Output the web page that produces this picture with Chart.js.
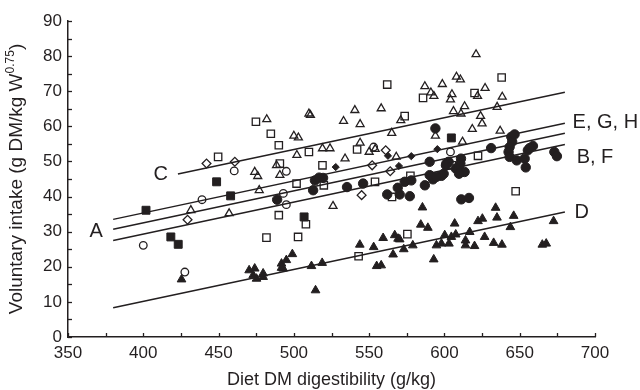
<!DOCTYPE html>
<html><head><meta charset="utf-8">
<script src="https://cdn.jsdelivr.net/npm/chart.js@4"></script>
<style>html,body{margin:0;padding:0;background:#fff;}</style>
</head><body>
<canvas id="c" width="640" height="390"></canvas>
<script>
// ---- data ----
const xTicks = [350,400,450,500,550,600,650,700];
const yTicks = [0,10,20,30,40,50,60,70,80,90];
const xTitle = 'Diet DM digestibility (g/kg)';
const yTitleMain = 'Voluntary intake (g DM/kg W';
const yTitleSup = '0.75';
const yTitleEnd = ')';

const openTriX = [474,476,477,431.6,457,482,488.5,490.7,510,511,540.5,558,533,544,587,591,593,571,565,500,503,502,519,524,544,534,550,554,568,594,621,598.6,608,610.6,627,605,604,613.4,606,611,638.4,635,624,625,618.5,637,612,622,526];
const openTriY = [47,45.8,41.8,36.1,35.2,62,48.9,46.1,63.6,63.2,64.6,65.1,61.5,60.6,71.4,69.6,68.6,61.7,58.1,57.3,56.8,51.8,53.7,53.7,55.3,50.8,52.7,53.5,51.3,57.3,80.5,72,74.1,73.3,70.9,69.1,67.6,65.7,64.3,63.6,68.4,65.5,62.9,60.8,59.2,58.7,55.6,68.6,37.3];

const openSqX = [474.8,484.7,490,449.7,490.7,510,519,542,562,573.6,585.8,638,620,622.3,605,501.8,519.9,553.9,577.4,565.2,490,508,481.8,502.8,543,575.4,647.3];
const openSqY = [61.3,57.9,54.6,51.3,49.4,52.7,48.9,53.4,71.9,62.9,68.1,73.9,69.5,51.6,48.9,43.7,43.2,44.2,45.9,39.9,34.7,32.1,28.3,28.5,23,29.3,41.5];

const openDiaX = [442,460.8,429.4,545,561,552,564];
const openDiaY = [49.4,49.9,33.4,40.4,53.2,48.9,47.2];

const openCirX = [460.4,495,439,400,427.6,553,604,495,493];
const openCirY = [47.3,47.2,39.1,26.1,18.5,54.1,52.7,37.7,40.9];

const fillDiaX = [527.8,569.8,578,595.3,562.5];
const fillDiaY = [48.4,48.7,51.5,53.5,51.6];

const fillCirX = [644.4,645,643.3,642.6,643.3,648,654,653.3,655.4,658.8,656.6,673,674.7,631,611,610.6,607.5,601.3,611.3,613.4,609.7,598,646.6,514,519.4,512.8,535.3,546,562,570.3,577,573.6,578,587,592.4,569,611.2,616.3,590.2,594,516.8,599.5,590.2,602.8,601,488.9,594.6];
const fillCirY = [57,55.6,54.1,52.7,51.3,50.3,48.3,50.8,53.2,54.4,53.8,52.7,51.5,53.8,50.8,49.4,48,49.4,47,47,46.5,45.9,57.7,44.6,45.3,41.8,42.7,43.7,40.6,40.6,40.1,44.2,44.6,43.2,44.9,42.5,39.2,39.6,49.9,59.4,45.4,46.5,46.1,49.9,48.9,39.1,45.6];

const fillSqX = [401.8,458,418.3,423.2,448.7,506.8,604.6];
const fillSqY = [36.1,40.2,28.5,26.4,44.2,34.2,56.7];

const fillTriX = [425.4,470.3,474,473,475.2,479.6,491.8,492.9,495,499,511.7,518.8,514.4,543.8,553,559.3,567,570.3,573,579,565.9,555,558,585.4,584.3,589,592.9,594.7,479.6,491.8,569.2,598,600.2,603,604.6,607.5,606.8,614,614,616.8,620,622.3,625.2,626.7,632.7,638.2,634,634.9,646,643.8,665,667.6,672.5];
const fillTriY = [16.4,19,19.5,17.6,16.6,17.1,20.9,19.5,21.9,23.6,20.2,21.1,13.3,26.3,25.6,28.2,29,27.8,25,26.1,23.5,20.2,20.4,36.9,32,31.1,22.1,26.1,18.1,19.7,28,26.6,29,26.6,28.5,29.2,32.3,27.5,26.1,29.9,25.9,33,33.7,28.5,26.8,26.3,36.8,34,34.5,31.3,26.3,26.6,33];

// regression lines (end points)
const lineX = [380, 680];
const lineCX = [423, 680];
const lineCY = [46.4, 69.7];
const lineEGHY = [33.5, 60.9];
const lineAY = [30.7, 58.0];
const lineBFY = [27.5, 54.8];
const lineDY = [8.3, 35.6];

// line labels
const labelText = ['C', 'A', 'E, G, H', 'B, F', 'D'];
const labelX = [416.4, 373.2, 685.1, 687.8, 686.4];
const labelY = [46.3, 30.0, 61.0, 51.2, 35.4];
const labelAlign = ['right', 'right', 'left', 'left', 'left'];

// ---- chart ----
const INK = '#231f20';
const FONT = '"Liberation Sans", Arial, sans-serif';
Chart.defaults.font.family = FONT;
Chart.defaults.color = INK;

const pts = (xs, ys) => xs.map((x, i) => ({x, y: ys[i]}));

function markerSet(xs, ys, style, r, filled, bw) {
  return {
    type: 'scatter', data: pts(xs, ys), pointStyle: style, pointRadius: r,
    pointBorderColor: INK, pointBackgroundColor: filled ? INK : 'rgba(0,0,0,0)',
    pointBorderWidth: bw, borderColor: INK, backgroundColor: filled ? INK : 'rgba(0,0,0,0)',
    pointHoverRadius: r
  };
}
function lineSet(xs, ys) {
  return {
    type: 'line', data: pts(xs, ys), borderColor: INK, borderWidth: 1.5,
    pointRadius: 0, fill: false, tension: 0
  };
}

const plugin = {
  id: 'decor',
  afterDraw(chart) {
    const {ctx, chartArea: a, scales: {x, y}} = chart;
    ctx.save();
    ctx.strokeStyle = INK; ctx.fillStyle = INK; ctx.lineWidth = 1.3;
    // inward tick marks (major + minor)
    for (let v = 0; v <= 90; v += 5) {
      const py = Math.round(y.getPixelForValue(v)) + 0.5;
      ctx.beginPath(); ctx.moveTo(a.left, py); ctx.lineTo(a.left + 4, py); ctx.stroke();
    }
    for (let v = 350; v <= 700; v += 25) {
      const px = Math.round(x.getPixelForValue(v)) + 0.5;
      ctx.beginPath(); ctx.moveTo(px, a.bottom); ctx.lineTo(px, a.bottom - 4); ctx.stroke();
    }
    // x title
    ctx.font = '18px ' + FONT;
    ctx.textAlign = 'center'; ctx.textBaseline = 'middle';
    ctx.fillText(xTitle, (a.left + a.right) / 2, 380);
    // y title with superscript
    const big = '19px ' + FONT, small = '12px ' + FONT;
    ctx.font = big;
    const mainW = ctx.measureText(yTitleMain).width;
    const endW = ctx.measureText(yTitleEnd).width;
    ctx.font = small;
    const supW = ctx.measureText(yTitleSup).width;
    const total = mainW + supW + endW;
    ctx.translate(17, (a.top + a.bottom) / 2);
    ctx.rotate(-Math.PI / 2);
    ctx.textAlign = 'left';
    let sx = -total / 2;
    ctx.font = big;
    ctx.fillText(yTitleMain, sx, 0); sx += mainW;
    ctx.font = small;
    ctx.fillText(yTitleSup, sx, -6); sx += supW;
    ctx.font = big;
    ctx.fillText(yTitleEnd, sx, 0);
    ctx.setTransform(1, 0, 0, 1, 0, 0);
    // line labels
    ctx.font = '20px ' + FONT;
    ctx.textBaseline = 'middle';
    for (let i = 0; i < labelText.length; i++) {
      ctx.textAlign = labelAlign[i];
      ctx.fillText(labelText[i], x.getPixelForValue(labelX[i]), y.getPixelForValue(labelY[i]));
    }
    ctx.restore();
  }
};

new Chart(document.getElementById('c'), {
  type: 'scatter',
  data: {
    datasets: [
      markerSet(openTriX, openTriY, 'triangle', 4.6, false, 1.3),
      markerSet(openSqX, openSqY, 'rect', 5.2, false, 1.3),
      markerSet(openDiaX, openDiaY, 'rectRot', 4.4, false, 1.3),
      markerSet(openCirX, openCirY, 'circle', 3.8, false, 1.3),
      markerSet(fillDiaX, fillDiaY, 'rectRot', 3.6, true, 1),
      markerSet(fillCirX, fillCirY, 'circle', 4.7, true, 1),
      markerSet(fillSqX, fillSqY, 'rect', 5.6, true, 1),
      markerSet(fillTriX, fillTriY, 'triangle', 5, true, 1),
      lineSet(lineCX, lineCY),
      lineSet(lineX, lineEGHY),
      lineSet(lineX, lineAY),
      lineSet(lineX, lineBFY),
      lineSet(lineX, lineDY)
    ]
  },
  options: {
    responsive: false, animation: false, devicePixelRatio: 1,
    layout: {padding: {left: 0, right: 45, top: 21, bottom: 0}},
    plugins: {legend: {display: false}, tooltip: {enabled: false}},
    scales: {
      x: {
        type: 'linear', min: 350, max: 700,
        afterFit(s) { s.height = 53; },
        afterBuildTicks(s) { s.ticks = xTicks.map(v => ({value: v})); },
        ticks: {font: {size: 17}, color: INK, padding: 6, maxRotation: 0, autoSkip: false},
        grid: {display: false, drawTicks: false},
        border: {display: true, color: INK, width: 1.5}
      },
      y: {
        type: 'linear', min: 0, max: 90,
        afterFit(s) { s.width = 68; },
        afterBuildTicks(s) { s.ticks = yTicks.map(v => ({value: v})); },
        ticks: {font: {size: 17}, color: INK, padding: 6, autoSkip: false},
        grid: {display: false, drawTicks: false},
        border: {display: true, color: INK, width: 1.5}
      }
    }
  },
  plugins: [plugin]
});
</script>
</body></html>
